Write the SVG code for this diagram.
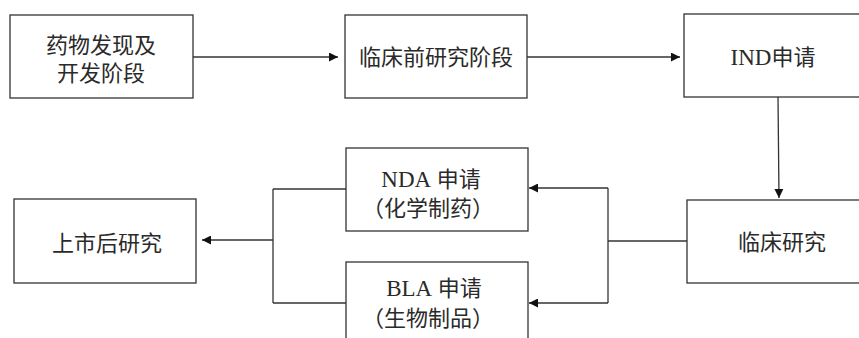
<svg xmlns="http://www.w3.org/2000/svg" width="859" height="338" viewBox="0 0 859 338">
<defs>
<marker id="ah" viewBox="0 0 10 10" refX="10" refY="5" markerWidth="9" markerHeight="9" markerUnits="userSpaceOnUse" orient="auto">
<path d="M0,0 L10,5 L0,10 z" fill="#111"/>
</marker>
<style>
.box{fill:#fff;stroke:#333;stroke-width:1.3}
.t{font-family:"Liberation Serif","Noto Sans CJK SC",serif;font-size:22px;fill:#2a2a2a;text-anchor:middle}
.l{font-size:23px}
.c{stroke:#333;stroke-width:1.3;fill:none}
</style>
</defs>
<rect width="859" height="338" fill="#fff"/>
<g id="n1"><rect class="box" x="10" y="15" width="183" height="83"/><text class="t" x="101" y="53">药物发现及</text><text class="t" x="101" y="81">开发阶段</text></g>
<g id="n2"><rect class="box" x="345" y="15" width="182" height="83"/><text class="t" x="436" y="65">临床前研究阶段</text></g>
<g id="n3"><rect class="box" x="684" y="14" width="190" height="83"/><text class="t" x="773" y="65"><tspan class="l">IND</tspan>申请</text></g>
<g id="n4"><rect class="box" x="687" y="200" width="190" height="83"/><text class="t" x="782" y="250">临床研究</text></g>
<g id="n5"><rect class="box" x="346" y="148" width="182" height="83"/><text class="t" x="431" y="187"><tspan class="l">NDA</tspan> 申请</text><text class="t" x="428" y="216">（化学制药）</text></g>
<g id="n6"><rect class="box" x="346" y="262" width="182" height="90"/><text class="t" x="434" y="296"><tspan class="l">BLA</tspan> 申请</text><text class="t" x="428" y="326">（生物制品）</text></g>
<g id="n7"><rect class="box" x="14" y="199" width="182" height="84"/><text class="t" x="107" y="251">上市后研究</text></g>
<g id="connectors">
<line class="c" x1="193" y1="57" x2="338" y2="57" marker-end="url(#ah)"/>
<line class="c" x1="527" y1="57" x2="680" y2="57" marker-end="url(#ah)"/>
<line class="c" x1="778" y1="97" x2="779" y2="198" marker-end="url(#ah)"/>
<polyline class="c" points="687,241 608,241"/>
<line class="c" x1="608" y1="188" x2="608" y2="303"/>
<line class="c" x1="608" y1="188" x2="529" y2="188" marker-end="url(#ah)"/>
<line class="c" x1="608" y1="303" x2="529" y2="303" marker-end="url(#ah)"/>
<line class="c" x1="346" y1="189" x2="273" y2="189"/>
<line class="c" x1="346" y1="303" x2="273" y2="303"/>
<line class="c" x1="273" y1="189" x2="273" y2="303"/>
<line class="c" x1="273" y1="240" x2="202" y2="240" marker-end="url(#ah)"/>
</g>
</svg>
